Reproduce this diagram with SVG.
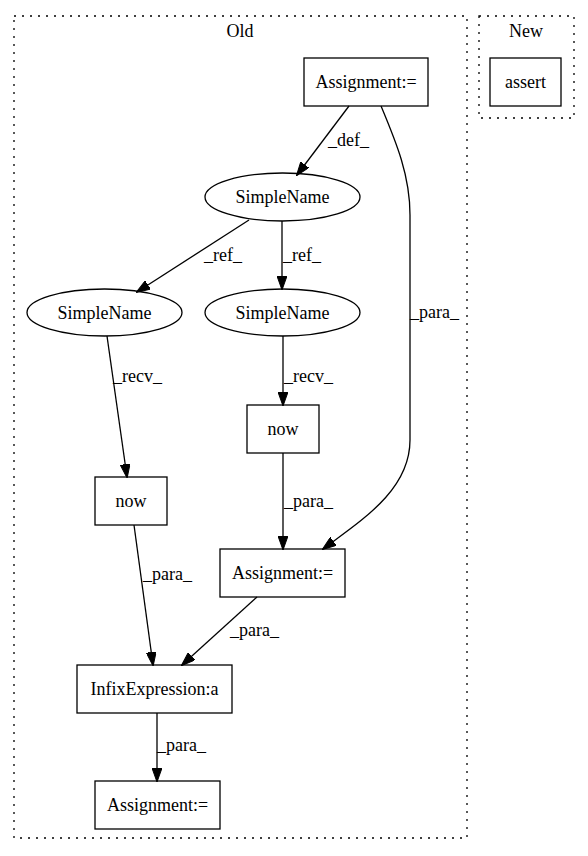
<svg xmlns="http://www.w3.org/2000/svg" width="588" height="856" viewBox="0 0 588 856">
<defs>
<style>
text{font-family:"Liberation Serif","Times New Roman",serif;font-size:18px;fill:#000}
.n{text-anchor:middle}
.box{fill:none;stroke:#000;stroke-width:1.3}
.cl{fill:none;stroke:#000;stroke-width:1.3;stroke-dasharray:2,6}
.e{fill:none;stroke:#000;stroke-width:1.3;marker-end:url(#ah)}
</style>
<marker id="ah" viewBox="0 0 14 10" refX="13" refY="5" markerWidth="14" markerHeight="10" markerUnits="userSpaceOnUse" orient="auto">
<path d="M0,0 L14,5 L0,10 Z" fill="#000" stroke="#000"/>
</marker>
</defs>
<rect width="588" height="856" fill="#fff"/>
<g id="cluster_old">
<rect class="cl" x="14" y="16" width="453" height="822"/>
<text class="n" x="240" y="37">Old</text>
</g>
<g id="cluster_new">
<rect class="cl" x="479" y="16" width="95" height="102"/>
<text class="n" x="526" y="37">New</text>
</g>
<g id="edges">
<path class="e" d="M349,106 L297,175"/>
<text x="328" y="146">_def_</text>
<path class="e" d="M381,106 C396,142 410,175 410,215 L410,440 C410,490 362,520 323,549"/>
<text x="410" y="318">_para_</text>
<path class="e" d="M249,220 L137,292"/>
<text x="204" y="261">_ref_</text>
<path class="e" d="M282,221 L282,289"/>
<text x="283" y="261">_ref_</text>
<path class="e" d="M107,336 L127,477"/>
<text x="113" y="382">_recv_</text>
<path class="e" d="M283,336 L283,405"/>
<text x="284" y="382">_recv_</text>
<path class="e" d="M283,453 L283,549"/>
<text x="284" y="507">_para_</text>
<path class="e" d="M134,525 L153,665"/>
<text x="143" y="580">_para_</text>
<path class="e" d="M257,597 L182,665"/>
<text x="230" y="636">_para_</text>
<path class="e" d="M157,713 L157,781"/>
<text x="157" y="751">_para_</text>
</g>
<g id="n_assign_top">
<rect class="box" x="304" y="58" width="124" height="48"/>
<text class="n" x="366" y="88">Assignment:=</text>
</g>
<g id="n_assert">
<rect class="box" x="490" y="58" width="71" height="48"/>
<text class="n" x="525.5" y="88">assert</text>
</g>
<g id="n_sn_top">
<ellipse class="box" cx="282.5" cy="197" rx="77.5" ry="24"/>
<text class="n" x="282.5" y="203">SimpleName</text>
</g>
<g id="n_sn_left">
<ellipse class="box" cx="104.5" cy="312.5" rx="77.5" ry="23.5"/>
<text class="n" x="104.5" y="318.5">SimpleName</text>
</g>
<g id="n_sn_right">
<ellipse class="box" cx="282.5" cy="312.5" rx="77.5" ry="23.5"/>
<text class="n" x="282.5" y="318.5">SimpleName</text>
</g>
<g id="n_now_right">
<rect class="box" x="247" y="405" width="72" height="48"/>
<text class="n" x="283" y="435">now</text>
</g>
<g id="n_now_left">
<rect class="box" x="95" y="477" width="72" height="48"/>
<text class="n" x="131" y="507">now</text>
</g>
<g id="n_assign_mid">
<rect class="box" x="220" y="549" width="125" height="48"/>
<text class="n" x="282.5" y="579">Assignment:=</text>
</g>
<g id="n_infix">
<rect class="box" x="77" y="665" width="155" height="48"/>
<text class="n" x="154.5" y="695">InfixExpression:a</text>
</g>
<g id="n_assign_bot">
<rect class="box" x="95" y="781" width="125" height="48"/>
<text class="n" x="157.5" y="811">Assignment:=</text>
</g>
</svg>
